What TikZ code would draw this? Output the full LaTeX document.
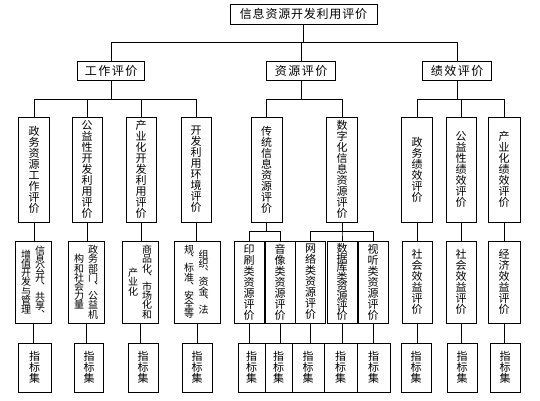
\documentclass[tikz,border=0pt]{standalone}
\usepackage{fontspec}
\setmainfont{Noto Sans CJK SC}
\newcommand\tightls{\lineskiplimit=-20pt\relax}
\newcommand\vd{︑}
\tikzset{
  bx/.style={draw=black, line width=0.9pt, fill=white, inner sep=0pt, align=center},
  ht/.style={font={\fontsize{12}{12}\selectfont}},
  vt/.style={font={\fontsize{11}{11}\selectfont\tightls}},
  vtt/.style={font={\fontsize{11}{9.6}\selectfont\tightls}},
  vs/.style={font={\fontsize{10}{9.2}\selectfont\tightls}, inner sep=0pt, align=center},
  ln/.style={draw=black, line width=0.9pt},
  rowtwo/.style={bx, vt, minimum height=105pt},
  rowthree/.style={bx, vt, minimum height=82pt},
  rowfour/.style={bx, vt, minimum height=49pt},
}
\newcommand\hks{\kern1.5pt}
\newcommand\tks{\kern0.8pt}
\begin{document}
\begin{tikzpicture}[x=1pt,y=-1pt]
\useasboundingbox (0,0) rectangle (540,400);

% root and level 1
\node[bx,ht,minimum width=147pt,minimum height=20pt] (root) at (303.5,14) {信\tks 息\tks 资\tks 源\tks 开\tks 发\tks 利\tks 用\tks 评\tks 价};
\node[bx,ht,minimum width=67pt,minimum height=19pt] (la) at (111,70.5) {工\hks 作\hks 评\hks 价};
\node[bx,ht,minimum width=69pt,minimum height=19pt] (lb) at (301,70.5) {资\hks 源\hks 评\hks 价};
\node[bx,ht,minimum width=69pt,minimum height=19pt] (lc) at (457,70.5) {绩\hks 效\hks 评\hks 价};

% row 2
\node[rowtwo,minimum width=31pt] (a1) at (34,169.5) {政\\务\\资\\源\\工\\作\\评\\价};
\node[rowtwo,minimum width=30pt] (a2) at (87,169.5) {公\\益\\性\\开\\发\\利\\用\\评\\价};
\node[rowtwo,minimum width=30pt] (a3) at (141,169.5) {产\\业\\化\\开\\发\\利\\用\\评\\价};
\node[rowtwo,minimum width=30pt] (a4) at (196,169.5) {开\\发\\利\\用\\环\\境\\评\\价};
\node[rowtwo,minimum width=31pt] (b1) at (266.5,169.5) {传\\统\\信\\息\\资\\源\\评\\价};
\node[rowtwo,minimum width=31pt] (b2) at (342,169.5) {数\\字\\化\\信\\息\\资\\源\\评\\价};
\node[rowtwo,minimum width=31pt] (c1) at (417,169.5) {政\\务\\绩\\效\\评\\价};
\node[rowtwo,minimum width=30pt] (c2) at (461,169.5) {公\\益\\性\\绩\\效\\评\\价};
\node[rowtwo,minimum width=32pt] (c3) at (504,169.5) {产\\业\\化\\绩\\效\\评\\价};

% row 3
\node[rowthree,minimum width=36pt] (a1m) at (33,282) {};
\node[vs] (a1mL) at ([xshift=-7pt]a1m.center) {增\\值\\开\\发\\与\\管\\理};
\node[vs] (a1mR) at ([xshift=7pt]a1m.center) {信\\息\\公\\开\\\vd\\共\\享\\\vd};
\node[rowthree,minimum width=36pt] (a2m) at (86,282) {};
\node[vs] (a2mL) at ([xshift=-7pt]a2m.center) {构\\和\\社\\会\\力\\量};
\node[vs] (a2mR) at ([xshift=7pt]a2m.center) {政\\务\\部\\门\\\vd\\公\\益\\机};
\node[rowthree,minimum width=36pt] (a3m) at (140,282) {};
\node[vs] (a3mL) at ([xshift=-7pt]a3m.center) {产\\业\\化};
\node[vs] (a3mR) at ([xshift=7pt]a3m.center) {商\\品\\化\\\vd\\市\\场\\化\\和};
\node[rowthree,minimum width=46pt] (a4m) at (197,282) {};
\node[vs] (a4mL) at ([xshift=-8pt]a4m.center) {规\\\vd\\标\\准\\\vd\\安\\全\\等};
\node[vs] (a4mR) at ([xshift=6.5pt]a4m.center) {组\\织\\\vd\\资\\金\\\vd\\法};

\node[rowthree,minimum width=30pt] (b1m) at (249,282) {印\\刷\\类\\资\\源\\评\\价};
\node[rowthree,minimum width=30pt] (b2m) at (280,282) {音\\像\\类\\资\\源\\评\\价};
\node[rowthree,minimum width=30pt] (b3m) at (310.5,282) {网\\络\\类\\资\\源\\评\\价};
\node[rowthree,vtt,minimum width=30pt] (b4m) at (342,282) {数\\据\\库\\类\\资\\源\\评\\价};
\node[rowthree,minimum width=30pt] (b5m) at (373,282) {视\\听\\类\\资\\源\\评\\价};

\node[rowthree,minimum width=30pt] (c1m) at (417,282) {社\\会\\效\\益\\评\\价};
\node[rowthree,minimum width=30pt] (c2m) at (461,282) {社\\会\\效\\益\\评\\价};
\node[rowthree,minimum width=32pt] (c3m) at (504,282) {经\\济\\效\\益\\评\\价};

% row 4
\node[rowfour,minimum width=33pt] (a1s) at (34.5,367.5) {指\\标\\集};
\node[rowfour,minimum width=29pt] (a2s) at (89,367.5) {指\\标\\集};
\node[rowfour,minimum width=30pt] (a3s) at (143,367.5) {指\\标\\集};
\node[rowfour,minimum width=30pt] (a4s) at (197,367.5) {指\\标\\集};
\node[rowfour,minimum width=27pt] (b1s) at (251.5,367.5) {指\\标\\集};
\node[rowfour,minimum width=27pt] (b2s) at (278.5,367.5) {指\\标\\集};
\node[rowfour,minimum width=32pt] (b3s) at (308,367.5) {指\\标\\集};
\node[rowfour,minimum width=33pt] (b4s) at (340.5,367.5) {指\\标\\集};
\node[rowfour,minimum width=33pt] (b5s) at (373.5,367.5) {指\\标\\集};
\node[rowfour,minimum width=30pt] (c1s) at (416,367.5) {指\\标\\集};
\node[rowfour,minimum width=30pt] (c2s) at (462,367.5) {指\\标\\集};
\node[rowfour,minimum width=30pt] (c3s) at (505,367.5) {指\\标\\集};

% bus coordinates
\coordinate (y0) at (0,42);
\coordinate (y1) at (0,99);
\coordinate (y2) at (0,231);

% connectors root -> level 1
\foreach \n in {la,lb,lc}
  \draw[ln] (root.south) -- (root.south |- y0) -| (\n.north);
% level 1 -> row 2
\foreach \n in {a1,a2,a3,a4}
  \draw[ln] (la.south) -- (la.south |- y1) -| (\n.north);
\foreach \n in {b1,b2}
  \draw[ln] (lb.south) -- (lb.south |- y1) -| (\n.north);
\foreach \n in {c1,c2,c3}
  \draw[ln] (lc.south) -- (lc.south |- y1) -| (\n.north);
% row 2 -> row 3
\foreach \p/\c in {a1/a1m,a2/a2m,a3/a3m,a4/a4m,c1/c1m,c2/c2m,c3/c3m}
  \draw[ln] (\p.south) -- (\p.south |- \c.north);
\foreach \c in {b1m,b2m}
  \draw[ln] (b1.south) -- (b1.south |- y2) -| (\c.north);
\foreach \c in {b3m,b4m,b5m}
  \draw[ln] (b2.south) -- (b2.south |- y2) -| (\c.north);
% row 3 -> row 4
\foreach \p/\c in {a1m/a1s,a2m/a2s,a3m/a3s,a4m/a4s,b1m/b1s,b2m/b2s,b3m/b3s,b4m/b4s,b5m/b5s,c1m/c1s,c2m/c2s,c3m/c3s}
  \draw[ln] (\p.south) -- (\p.south |- \c.north);
\end{tikzpicture}
\end{document}
